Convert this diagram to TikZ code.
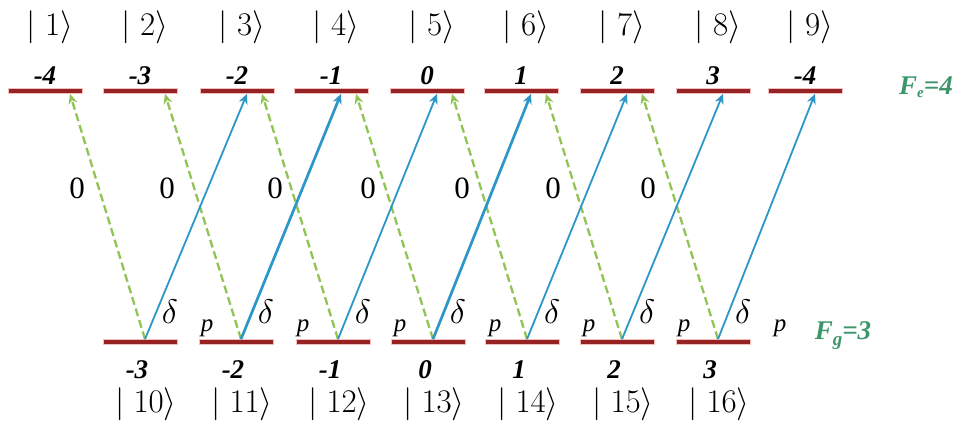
\RequirePackage{fix-cm}
\documentclass[tikz,border=0pt]{standalone}
\usepackage{fontspec}
\setmainfont{Liberation Serif}
\usetikzlibrary{arrows.meta}
\definecolor{lvlred}{RGB}{150,35,35}
\definecolor{lvlglow}{RGB}{245,190,190}
\definecolor{pumpblue}{RGB}{45,150,200}
\definecolor{probegreen}{RGB}{145,195,85}
\definecolor{labgreen}{RGB}{60,150,105}
\tikzset{
  lvl/.style={draw=lvlglow, line width=0.7pt, fill=lvlred, inner sep=0pt, minimum width=74pt, minimum height=5pt},
  ket/.style={font=\fontsize{33}{38}\selectfont, inner sep=0pt},
  mnum/.style={font=\fontsize{27}{30}\selectfont\bfseries\itshape, inner sep=0pt},
  zlab/.style={font=\fontsize{31}{34}\selectfont, inner sep=0pt},
  dlab/.style={font=\fontsize{34}{36}\selectfont, inner sep=0pt},
  plab/.style={font=\fontsize{25}{28}\selectfont\itshape, inner sep=0pt},
  flab/.style={font=\fontsize{27}{30}\selectfont\bfseries\itshape, text=labgreen, inner sep=0pt},
  bluearr/.style={draw=pumpblue, line width=1.8pt, -{Stealth[length=10pt,width=9pt]}},
  thickblue/.style={bluearr, line width=2.7pt},
  greenarr/.style={draw=probegreen, line width=2.3pt, dash pattern=on 8pt off 4pt, -{Stealth[length=10pt,width=9pt]}},
}
\begin{document}
\begin{tikzpicture}[x=1pt,y=-1pt]
\useasboundingbox (0,0) rectangle (973,428);
% upper levels
\foreach \i/\c/\m in {1/45/-4,2/140/-3,3/237/-2,4/331/-1,5/427/0,6/521/1,7/617/2,8/713/3,9/805/-4}{
  \node[lvl] (u\i) at (\c,91) {};
  \node[mnum] (um\i) at (\c,76) {\m};
  \node[ket] (uk\i) at (\c+5,27) {$|\;\i\rangle$};
}
% lower levels
\foreach \i/\c/\m [evaluate=\i as \k using int(\i+9)] in {1/140/-3,2/236/-2,3/333/-1,4/428/0,5/522/1,6/617/2,7/713/3}{
  \node[lvl] (l\i) at (\c,342) {};
  \node[mnum] (lm\i) at (\c-3,370) {\m};
  \node[ket] (lk\i) at (\c+6,404) {$|\;\k\rangle$};
}
% green dashed transitions
\foreach \i in {1,...,7}{
  \draw[greenarr] ([xshift=5pt]l\i.north) -- ([xshift=25pt]u\i.south);
}
% blue transitions
\foreach \i [evaluate=\i as \j using int(\i+2)] in {1,3,5,6,7}{
  \draw[bluearr] ([xshift=5pt]l\i.north) -- ([xshift=10pt]u\j.south);
}
\foreach \i [evaluate=\i as \j using int(\i+2)] in {2,4}{
  \draw[thickblue] ([xshift=5pt]l\i.north) -- ([xshift=10pt]u\j.south);
}
% zero labels
\foreach \i/\x in {1/77,2/167,3/275,4/368,5/462,6/553,7/648}{
  \node[zlab] (z\i) at (\x,188) {0};
}
% delta_p labels
\foreach \i/\c in {1/140,2/236,3/333,4/428,5/522,6/617,7/713}{
  \node[dlab] (d\i) at (\c+30,312) {$\delta$};
  \node[plab] (p\i) at (\c+67,328) {p};
}
\node[flab] (fe) at (926,87) {F\raisebox{-3pt}{\fontsize{15}{16}\selectfont e}=4};
\node[flab] (fg) at (843,336) {F\raisebox{-6pt}{\fontsize{19}{20}\selectfont g}=3};
\end{tikzpicture}
\end{document}
